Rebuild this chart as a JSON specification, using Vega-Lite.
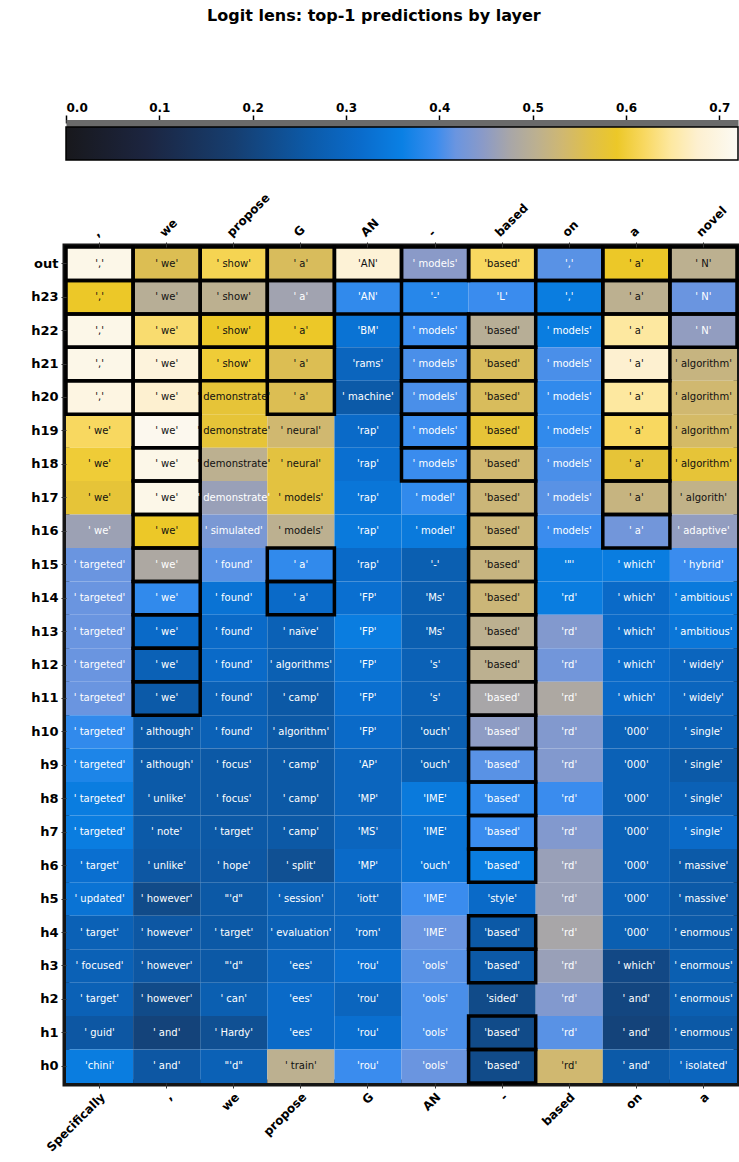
{
 "$schema": "https://vega.github.io/schema/vega-lite/v6.json",
 "background": "white",
 "padding": {"top": 8, "left": 5, "right": 5, "bottom": 5},
 "title": {"text": "Logit lens: top-1 predictions by layer", "fontSize": 16, "fontWeight": "bold", "font": "DejaVu Sans", "color": "black", "anchor": "middle", "offset": 77},
 "bounds": "flush",
 "spacing": 87,
 "datasets": {
  "bar": [{"lo": 0, "hi": 0.72}],
  "cells": [
{"l":"out","i":0,"t":"','","v":0.706,"m":1},{"l":"out","i":1,"t":"' we'","v":0.554,"m":1},{"l":"out","i":2,"t":"' show'","v":0.612,"m":1},{"l":"out","i":3,"t":"' a'","v":0.547,"m":1},{"l":"out","i":4,"t":"'AN'","v":0.684,"m":1},{"l":"out","i":5,"t":"' models'","v":0.446,"m":1},{"l":"out","i":6,"t":"'based'","v":0.619,"m":1},{"l":"out","i":7,"t":"','","v":0.410,"m":1},{"l":"out","i":8,"t":"' a'","v":0.590,"m":1},{"l":"out","i":9,"t":"' N'","v":0.504,"m":1},
{"l":"h23","i":0,"t":"','","v":0.590,"m":1},{"l":"h23","i":1,"t":"' we'","v":0.497,"m":1},{"l":"h23","i":2,"t":"' show'","v":0.504,"m":1},{"l":"h23","i":3,"t":"' a'","v":0.468,"m":1},{"l":"h23","i":4,"t":"'AN'","v":0.389,"m":1},{"l":"h23","i":5,"t":"'-'","v":0.382,"m":0},{"l":"h23","i":6,"t":"'L'","v":0.396,"m":0},{"l":"h23","i":7,"t":"','","v":0.353,"m":1},{"l":"h23","i":8,"t":"' a'","v":0.504,"m":1},{"l":"h23","i":9,"t":"' N'","v":0.418,"m":1},
{"l":"h22","i":0,"t":"','","v":0.706,"m":1},{"l":"h22","i":1,"t":"' we'","v":0.626,"m":1},{"l":"h22","i":2,"t":"' show'","v":0.590,"m":1},{"l":"h22","i":3,"t":"' a'","v":0.590,"m":1},{"l":"h22","i":4,"t":"'BM'","v":0.331,"m":0},{"l":"h22","i":5,"t":"' models'","v":0.396,"m":1},{"l":"h22","i":6,"t":"'based'","v":0.497,"m":1},{"l":"h22","i":7,"t":"' models'","v":0.353,"m":0},{"l":"h22","i":8,"t":"' a'","v":0.648,"m":1},{"l":"h22","i":9,"t":"' N'","v":0.454,"m":1},
{"l":"h21","i":0,"t":"','","v":0.706,"m":1},{"l":"h21","i":1,"t":"' we'","v":0.691,"m":1},{"l":"h21","i":2,"t":"' show'","v":0.598,"m":1},{"l":"h21","i":3,"t":"' a'","v":0.554,"m":1},{"l":"h21","i":4,"t":"'rams'","v":0.295,"m":0},{"l":"h21","i":5,"t":"' models'","v":0.403,"m":1},{"l":"h21","i":6,"t":"'based'","v":0.547,"m":1},{"l":"h21","i":7,"t":"' models'","v":0.403,"m":0},{"l":"h21","i":8,"t":"' a'","v":0.677,"m":1},{"l":"h21","i":9,"t":"' algorithm'","v":0.518,"m":0},
{"l":"h20","i":0,"t":"','","v":0.698,"m":1},{"l":"h20","i":1,"t":"' we'","v":0.677,"m":1},{"l":"h20","i":2,"t":"' demonstrate'","v":0.576,"m":0},{"l":"h20","i":3,"t":"' a'","v":0.554,"m":1},{"l":"h20","i":4,"t":"' machine'","v":0.259,"m":0},{"l":"h20","i":5,"t":"' models'","v":0.403,"m":1},{"l":"h20","i":6,"t":"'based'","v":0.547,"m":1},{"l":"h20","i":7,"t":"' models'","v":0.389,"m":0},{"l":"h20","i":8,"t":"' a'","v":0.648,"m":1},{"l":"h20","i":9,"t":"' algorithm'","v":0.533,"m":0},
{"l":"h19","i":0,"t":"' we'","v":0.619,"m":0},{"l":"h19","i":1,"t":"' we'","v":0.713,"m":1},{"l":"h19","i":2,"t":"' demonstrate'","v":0.576,"m":0},{"l":"h19","i":3,"t":"' neural'","v":0.533,"m":0},{"l":"h19","i":4,"t":"'rap'","v":0.310,"m":0},{"l":"h19","i":5,"t":"' models'","v":0.396,"m":1},{"l":"h19","i":6,"t":"'based'","v":0.576,"m":1},{"l":"h19","i":7,"t":"' models'","v":0.389,"m":0},{"l":"h19","i":8,"t":"' a'","v":0.619,"m":1},{"l":"h19","i":9,"t":"' algorithm'","v":0.540,"m":0},
{"l":"h18","i":0,"t":"' we'","v":0.598,"m":0},{"l":"h18","i":1,"t":"' we'","v":0.706,"m":1},{"l":"h18","i":2,"t":"' demonstrate'","v":0.504,"m":0},{"l":"h18","i":3,"t":"' neural'","v":0.569,"m":0},{"l":"h18","i":4,"t":"'rap'","v":0.324,"m":0},{"l":"h18","i":5,"t":"' models'","v":0.396,"m":1},{"l":"h18","i":6,"t":"'based'","v":0.533,"m":1},{"l":"h18","i":7,"t":"' models'","v":0.403,"m":0},{"l":"h18","i":8,"t":"' a'","v":0.576,"m":1},{"l":"h18","i":9,"t":"' algorithm'","v":0.576,"m":0},
{"l":"h17","i":0,"t":"' we'","v":0.576,"m":0},{"l":"h17","i":1,"t":"' we'","v":0.706,"m":1},{"l":"h17","i":2,"t":"' demonstrate'","v":0.461,"m":0},{"l":"h17","i":3,"t":"' models'","v":0.569,"m":0},{"l":"h17","i":4,"t":"'rap'","v":0.338,"m":0},{"l":"h17","i":5,"t":"' model'","v":0.389,"m":0},{"l":"h17","i":6,"t":"'based'","v":0.526,"m":1},{"l":"h17","i":7,"t":"' models'","v":0.410,"m":0},{"l":"h17","i":8,"t":"' a'","v":0.518,"m":1},{"l":"h17","i":9,"t":"' algorith'","v":0.511,"m":0},
{"l":"h16","i":0,"t":"' we'","v":0.464,"m":0},{"l":"h16","i":1,"t":"' we'","v":0.590,"m":1},{"l":"h16","i":2,"t":"' simulated'","v":0.432,"m":0},{"l":"h16","i":3,"t":"' models'","v":0.504,"m":0},{"l":"h16","i":4,"t":"'rap'","v":0.346,"m":0},{"l":"h16","i":5,"t":"' model'","v":0.346,"m":0},{"l":"h16","i":6,"t":"'based'","v":0.526,"m":1},{"l":"h16","i":7,"t":"' models'","v":0.396,"m":0},{"l":"h16","i":8,"t":"' a'","v":0.425,"m":1},{"l":"h16","i":9,"t":"' adaptive'","v":0.454,"m":0},
{"l":"h15","i":0,"t":"' targeted'","v":0.418,"m":0},{"l":"h15","i":1,"t":"' we'","v":0.482,"m":1},{"l":"h15","i":2,"t":"' found'","v":0.410,"m":0},{"l":"h15","i":3,"t":"' a'","v":0.389,"m":1},{"l":"h15","i":4,"t":"'rap'","v":0.310,"m":0},{"l":"h15","i":5,"t":"'-'","v":0.274,"m":0},{"l":"h15","i":6,"t":"'based'","v":0.518,"m":1},{"l":"h15","i":7,"t":"'\"'","v":0.353,"m":0},{"l":"h15","i":8,"t":"' which'","v":0.353,"m":0},{"l":"h15","i":9,"t":"' hybrid'","v":0.396,"m":0},
{"l":"h14","i":0,"t":"' targeted'","v":0.418,"m":0},{"l":"h14","i":1,"t":"' we'","v":0.389,"m":1},{"l":"h14","i":2,"t":"' found'","v":0.331,"m":0},{"l":"h14","i":3,"t":"' a'","v":0.310,"m":1},{"l":"h14","i":4,"t":"'FP'","v":0.324,"m":0},{"l":"h14","i":5,"t":"'Ms'","v":0.274,"m":0},{"l":"h14","i":6,"t":"'based'","v":0.526,"m":1},{"l":"h14","i":7,"t":"'rd'","v":0.353,"m":0},{"l":"h14","i":8,"t":"' which'","v":0.310,"m":0},{"l":"h14","i":9,"t":"' ambitious'","v":0.346,"m":0},
{"l":"h13","i":0,"t":"' targeted'","v":0.418,"m":0},{"l":"h13","i":1,"t":"' we'","v":0.310,"m":1},{"l":"h13","i":2,"t":"' found'","v":0.310,"m":0},{"l":"h13","i":3,"t":"' naïve'","v":0.281,"m":0},{"l":"h13","i":4,"t":"'FP'","v":0.353,"m":0},{"l":"h13","i":5,"t":"'Ms'","v":0.274,"m":0},{"l":"h13","i":6,"t":"'based'","v":0.504,"m":1},{"l":"h13","i":7,"t":"'rd'","v":0.439,"m":0},{"l":"h13","i":8,"t":"' which'","v":0.310,"m":0},{"l":"h13","i":9,"t":"' ambitious'","v":0.338,"m":0},
{"l":"h12","i":0,"t":"' targeted'","v":0.418,"m":0},{"l":"h12","i":1,"t":"' we'","v":0.281,"m":1},{"l":"h12","i":2,"t":"' found'","v":0.310,"m":0},{"l":"h12","i":3,"t":"' algorithms'","v":0.277,"m":0},{"l":"h12","i":4,"t":"'FP'","v":0.331,"m":0},{"l":"h12","i":5,"t":"'s'","v":0.281,"m":0},{"l":"h12","i":6,"t":"'based'","v":0.504,"m":1},{"l":"h12","i":7,"t":"'rd'","v":0.425,"m":0},{"l":"h12","i":8,"t":"' which'","v":0.310,"m":0},{"l":"h12","i":9,"t":"' widely'","v":0.295,"m":0},
{"l":"h11","i":0,"t":"' targeted'","v":0.418,"m":0},{"l":"h11","i":1,"t":"' we'","v":0.259,"m":1},{"l":"h11","i":2,"t":"' found'","v":0.281,"m":0},{"l":"h11","i":3,"t":"' camp'","v":0.256,"m":0},{"l":"h11","i":4,"t":"'FP'","v":0.324,"m":0},{"l":"h11","i":5,"t":"'s'","v":0.281,"m":0},{"l":"h11","i":6,"t":"'based'","v":0.475,"m":1},{"l":"h11","i":7,"t":"'rd'","v":0.482,"m":0},{"l":"h11","i":8,"t":"' which'","v":0.310,"m":0},{"l":"h11","i":9,"t":"' widely'","v":0.295,"m":0},
{"l":"h10","i":0,"t":"' targeted'","v":0.389,"m":0},{"l":"h10","i":1,"t":"' although'","v":0.259,"m":0},{"l":"h10","i":2,"t":"' found'","v":0.281,"m":0},{"l":"h10","i":3,"t":"' algorithm'","v":0.256,"m":0},{"l":"h10","i":4,"t":"'FP'","v":0.310,"m":0},{"l":"h10","i":5,"t":"'ouch'","v":0.274,"m":0},{"l":"h10","i":6,"t":"'based'","v":0.450,"m":1},{"l":"h10","i":7,"t":"'rd'","v":0.439,"m":0},{"l":"h10","i":8,"t":"'000'","v":0.281,"m":0},{"l":"h10","i":9,"t":"' single'","v":0.281,"m":0},
{"l":"h9","i":0,"t":"' targeted'","v":0.374,"m":0},{"l":"h9","i":1,"t":"' although'","v":0.259,"m":0},{"l":"h9","i":2,"t":"' focus'","v":0.256,"m":0},{"l":"h9","i":3,"t":"' camp'","v":0.256,"m":0},{"l":"h9","i":4,"t":"'AP'","v":0.295,"m":0},{"l":"h9","i":5,"t":"'ouch'","v":0.274,"m":0},{"l":"h9","i":6,"t":"'based'","v":0.410,"m":1},{"l":"h9","i":7,"t":"'rd'","v":0.439,"m":0},{"l":"h9","i":8,"t":"'000'","v":0.281,"m":0},{"l":"h9","i":9,"t":"' single'","v":0.259,"m":0},
{"l":"h8","i":0,"t":"' targeted'","v":0.353,"m":0},{"l":"h8","i":1,"t":"' unlike'","v":0.259,"m":0},{"l":"h8","i":2,"t":"' focus'","v":0.256,"m":0},{"l":"h8","i":3,"t":"' camp'","v":0.256,"m":0},{"l":"h8","i":4,"t":"'MP'","v":0.295,"m":0},{"l":"h8","i":5,"t":"'IME'","v":0.346,"m":0},{"l":"h8","i":6,"t":"'based'","v":0.389,"m":1},{"l":"h8","i":7,"t":"'rd'","v":0.396,"m":0},{"l":"h8","i":8,"t":"'000'","v":0.281,"m":0},{"l":"h8","i":9,"t":"' single'","v":0.281,"m":0},
{"l":"h7","i":0,"t":"' targeted'","v":0.353,"m":0},{"l":"h7","i":1,"t":"' note'","v":0.259,"m":0},{"l":"h7","i":2,"t":"' target'","v":0.256,"m":0},{"l":"h7","i":3,"t":"' camp'","v":0.256,"m":0},{"l":"h7","i":4,"t":"'MS'","v":0.295,"m":0},{"l":"h7","i":5,"t":"'IME'","v":0.331,"m":0},{"l":"h7","i":6,"t":"'based'","v":0.396,"m":1},{"l":"h7","i":7,"t":"'rd'","v":0.439,"m":0},{"l":"h7","i":8,"t":"'000'","v":0.281,"m":0},{"l":"h7","i":9,"t":"' single'","v":0.310,"m":0},
{"l":"h6","i":0,"t":"' target'","v":0.324,"m":0},{"l":"h6","i":1,"t":"' unlike'","v":0.252,"m":0},{"l":"h6","i":2,"t":"' hope'","v":0.252,"m":0},{"l":"h6","i":3,"t":"' split'","v":0.230,"m":0},{"l":"h6","i":4,"t":"'MP'","v":0.310,"m":0},{"l":"h6","i":5,"t":"'ouch'","v":0.331,"m":0},{"l":"h6","i":6,"t":"'based'","v":0.353,"m":1},{"l":"h6","i":7,"t":"'rd'","v":0.461,"m":0},{"l":"h6","i":8,"t":"'000'","v":0.281,"m":0},{"l":"h6","i":9,"t":"' massive'","v":0.259,"m":0},
{"l":"h5","i":0,"t":"' updated'","v":0.331,"m":0},{"l":"h5","i":1,"t":"' however'","v":0.216,"m":0},{"l":"h5","i":2,"t":"\"'d\"","v":0.256,"m":0},{"l":"h5","i":3,"t":"' session'","v":0.281,"m":0},{"l":"h5","i":4,"t":"'iott'","v":0.295,"m":0},{"l":"h5","i":5,"t":"'IME'","v":0.396,"m":0},{"l":"h5","i":6,"t":"'style'","v":0.310,"m":0},{"l":"h5","i":7,"t":"'rd'","v":0.461,"m":0},{"l":"h5","i":8,"t":"'000'","v":0.281,"m":0},{"l":"h5","i":9,"t":"' massive'","v":0.259,"m":0},
{"l":"h4","i":0,"t":"' target'","v":0.281,"m":0},{"l":"h4","i":1,"t":"' however'","v":0.252,"m":0},{"l":"h4","i":2,"t":"' target'","v":0.256,"m":0},{"l":"h4","i":3,"t":"' evaluation'","v":0.281,"m":0},{"l":"h4","i":4,"t":"'rom'","v":0.295,"m":0},{"l":"h4","i":5,"t":"'IME'","v":0.418,"m":0},{"l":"h4","i":6,"t":"'based'","v":0.256,"m":1},{"l":"h4","i":7,"t":"'rd'","v":0.475,"m":0},{"l":"h4","i":8,"t":"'000'","v":0.274,"m":0},{"l":"h4","i":9,"t":"' enormous'","v":0.259,"m":0},
{"l":"h3","i":0,"t":"' focused'","v":0.281,"m":0},{"l":"h3","i":1,"t":"' however'","v":0.252,"m":0},{"l":"h3","i":2,"t":"\"'d\"","v":0.256,"m":0},{"l":"h3","i":3,"t":"'ees'","v":0.295,"m":0},{"l":"h3","i":4,"t":"'rou'","v":0.324,"m":0},{"l":"h3","i":5,"t":"'ools'","v":0.410,"m":0},{"l":"h3","i":6,"t":"'based'","v":0.256,"m":1},{"l":"h3","i":7,"t":"'rd'","v":0.461,"m":0},{"l":"h3","i":8,"t":"' which'","v":0.209,"m":0},{"l":"h3","i":9,"t":"' enormous'","v":0.274,"m":0},
{"l":"h2","i":0,"t":"' target'","v":0.281,"m":0},{"l":"h2","i":1,"t":"' however'","v":0.216,"m":0},{"l":"h2","i":2,"t":"' can'","v":0.274,"m":0},{"l":"h2","i":3,"t":"'ees'","v":0.310,"m":0},{"l":"h2","i":4,"t":"'rou'","v":0.295,"m":0},{"l":"h2","i":5,"t":"'ools'","v":0.403,"m":0},{"l":"h2","i":6,"t":"'sided'","v":0.216,"m":0},{"l":"h2","i":7,"t":"'rd'","v":0.439,"m":0},{"l":"h2","i":8,"t":"' and'","v":0.202,"m":0},{"l":"h2","i":9,"t":"' enormous'","v":0.274,"m":0},
{"l":"h1","i":0,"t":"' guid'","v":0.252,"m":0},{"l":"h1","i":1,"t":"' and'","v":0.194,"m":0},{"l":"h1","i":2,"t":"' Hardy'","v":0.230,"m":0},{"l":"h1","i":3,"t":"'ees'","v":0.310,"m":0},{"l":"h1","i":4,"t":"'rou'","v":0.324,"m":0},{"l":"h1","i":5,"t":"'ools'","v":0.403,"m":0},{"l":"h1","i":6,"t":"'based'","v":0.216,"m":1},{"l":"h1","i":7,"t":"'rd'","v":0.410,"m":0},{"l":"h1","i":8,"t":"' and'","v":0.194,"m":0},{"l":"h1","i":9,"t":"' enormous'","v":0.256,"m":0},
{"l":"h0","i":0,"t":"'chini'","v":0.353,"m":0},{"l":"h0","i":1,"t":"' and'","v":0.252,"m":0},{"l":"h0","i":2,"t":"\"'d\"","v":0.281,"m":0},{"l":"h0","i":3,"t":"' train'","v":0.504,"m":0},{"l":"h0","i":4,"t":"'rou'","v":0.396,"m":0},{"l":"h0","i":5,"t":"'ools'","v":0.418,"m":0},{"l":"h0","i":6,"t":"'based'","v":0.216,"m":1},{"l":"h0","i":7,"t":"'rd'","v":0.533,"m":0},{"l":"h0","i":8,"t":"' and'","v":0.259,"m":0},{"l":"h0","i":9,"t":"' isolated'","v":0.295,"m":0}
  ]
 },
 "vconcat": [
  {
   "data": {"name": "bar"},
   "width": 672,
   "height": 33,
   "view": {"stroke": null},
   "mark": {"type": "rect", "stroke": "black", "strokeWidth": 1.5,
     "fill": {"gradient": "linear", "x1": 0, "y1": 0, "x2": 1, "y2": 0, "stops": [
       {"offset": 0, "color": "#18181c"}, {"offset": 0.12, "color": "#1c2540"}, {"offset": 0.25, "color": "#163e70"},
       {"offset": 0.36, "color": "#0c5aa8"}, {"offset": 0.44, "color": "#0a6ccc"}, {"offset": 0.5, "color": "#0a80e4"},
       {"offset": 0.55, "color": "#3a8cee"}, {"offset": 0.58, "color": "#6a95e0"}, {"offset": 0.62, "color": "#8a9ac8"},
       {"offset": 0.66, "color": "#a8a6a8"}, {"offset": 0.7, "color": "#bcb090"}, {"offset": 0.74, "color": "#d0b870"},
       {"offset": 0.78, "color": "#e0c048"}, {"offset": 0.82, "color": "#ecc828"}, {"offset": 0.86, "color": "#f8d860"},
       {"offset": 0.9, "color": "#fde8a0"}, {"offset": 0.94, "color": "#fdf0d0"}, {"offset": 1, "color": "#fcfaf4"}]}},
   "encoding": {
    "x": {"field": "lo", "type": "quantitative", "scale": {"domain": [0, 0.72], "nice": false, "zero": false},
      "axis": {"orient": "top", "values": [0, 0.1, 0.2, 0.3, 0.4, 0.5, 0.6, 0.7], "format": ".1f", "grid": false, "title": null,
        "labelFontSize": 12, "labelFontWeight": "bold", "labelColor": "black", "labelFont": "DejaVu Sans",
        "tickColor": "black", "tickSize": 8, "tickWidth": 1.5, "domainColor": "#6a6a6a", "domainWidth": 7, "offset": 4, "labelPadding": 1}},
    "x2": {"field": "hi"}
   }
  },
  {
   "data": {"name": "cells"},
   "width": 671,
   "height": 836,
   "view": {"stroke": "#151515", "strokeWidth": 7},
   "resolve": {"axis": {"x": "independent"}},
   "layer": [
    {
     "mark": {"type": "rect"},
     "encoding": {
      "x": {"field": "i", "type": "ordinal", "scale": {"domain": [0,1,2,3,4,5,6,7,8,9], "paddingInner": 0, "paddingOuter": 0},
        "axis": {"orient": "bottom", "title": null, "labelAngle": -45, "domain": false, "tickColor": "#333", "tickSize": 5,
          "labelFontSize": 12, "labelFontWeight": "bold", "labelColor": "black", "labelFont": "DejaVu Sans", "labelPadding": 3,
          "labelExpr": "[' Specifically', ',', ' we', ' propose', ' G', 'AN', '-', 'based', ' on', ' a'][datum.value]"}},
      "y": {"field": "l", "type": "ordinal", "scale": {"domain": ["out","h23","h22","h21","h20","h19","h18","h17","h16","h15","h14","h13","h12","h11","h10","h9","h8","h7","h6","h5","h4","h3","h2","h1","h0"], "paddingInner": 0, "paddingOuter": 0},
        "axis": {"title": null, "domain": false, "tickColor": "#333", "tickSize": 5, "labelFontSize": 13, "labelFontWeight": "bold", "labelColor": "black", "labelFont": "DejaVu Sans", "labelPadding": 3, "minExtent": 57, "maxExtent": 57}},
      "color": {"field": "v", "type": "quantitative", "legend": null,
        "scale": {"domain": [0, 0.0864, 0.18, 0.2592, 0.3168, 0.36, 0.396, 0.4176, 0.4464, 0.4752, 0.504, 0.5328, 0.5616, 0.5904, 0.6192, 0.648, 0.6768, 0.72],
          "range": ["#18181c", "#1c2540", "#163e70", "#0c5aa8", "#0a6ccc", "#0a80e4", "#3a8cee", "#6a95e0", "#8a9ac8", "#a8a6a8", "#bcb090", "#d0b870", "#e0c048", "#ecc828", "#f8d860", "#fde8a0", "#fdf0d0", "#fcfaf4"],
          "interpolate": "rgb"}}
     }
    },
    {
     "mark": {"type": "rect", "filled": false, "stroke": "black", "strokeWidth": 3.5},
     "encoding": {
      "x": {"field": "i", "type": "ordinal",
        "axis": {"orient": "top", "title": null, "labelAngle": -45, "domain": false, "tickColor": "#333", "tickSize": 5,
          "labelFontSize": 12, "labelFontWeight": "bold", "labelColor": "black", "labelFont": "DejaVu Sans", "labelPadding": 3,
          "labelExpr": "[',', ' we', ' propose', ' G', 'AN', '-', 'based', ' on', ' a', ' novel'][datum.value]"}},
      "y": {"field": "l", "type": "ordinal"},
      "strokeOpacity": {"condition": {"test": "datum.m == 1", "value": 1}, "value": 0}
     }
    },
    {
     "mark": {"type": "text", "font": "DejaVu Sans", "fontSize": 10, "align": "center", "baseline": "middle"},
     "encoding": {
      "x": {"field": "i", "type": "ordinal", "axis": null},
      "y": {"field": "l", "type": "ordinal"},
      "text": {"field": "t"},
      "color": {"condition": {"test": "datum.v >= 0.486", "value": "#111111"}, "value": "#ffffff"}
     }
    }
   ]
  }
 ]
}
